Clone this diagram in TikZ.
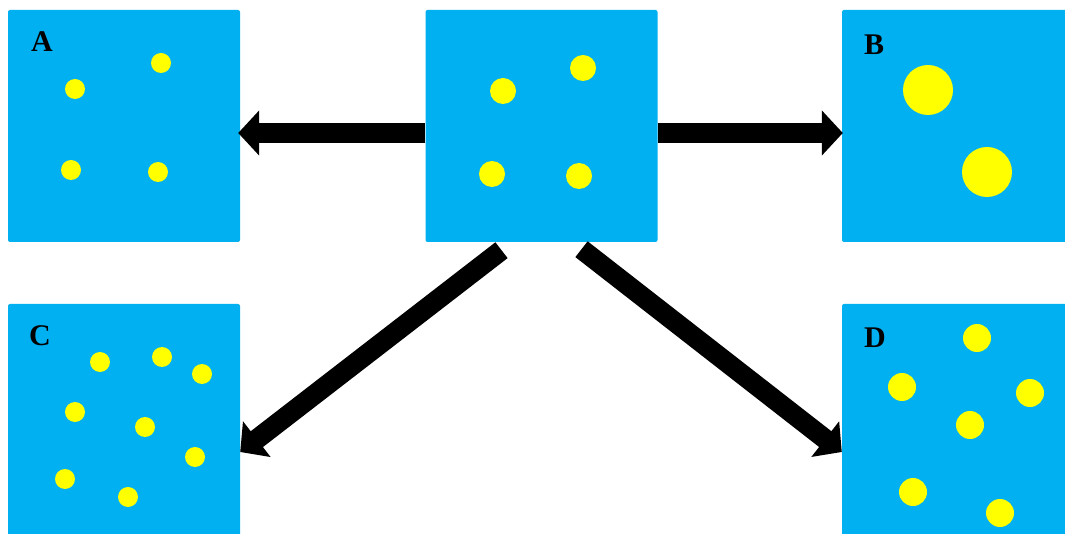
\documentclass[tikz,border=0pt]{standalone}
\usepackage{fontspec}
\setmainfont{Liberation Serif}
\usetikzlibrary{arrows.meta,calc}
\definecolor{boxblue}{HTML}{00B0F0}
\definecolor{dotyellow}{HTML}{FFFF00}
\begin{document}
\begin{tikzpicture}[x=1pt,y=-1pt,
  panel/.style={fill=boxblue,draw=none,rounded corners=2pt,minimum width=232pt,minimum height=232pt,inner sep=0pt},
  dot/.style={circle,fill=dotyellow,draw=none,inner sep=0pt,minimum size=#1},
  dot/.default=20pt,
  lab/.style={font=\bfseries\fontsize{30}{30}\selectfont,inner sep=0pt},
  bigarrow/.style={line width=20pt,-{Triangle[width=44pt,length=21pt]}}]
\clip (0,0) rectangle (1065,534);
\fill[white] (0,0) rectangle (1065,534);
% panels
\node[panel] (A) at (124,126) {};
\node[panel] (ctr) at (541.5,126) {};
\node[panel] (B) at (958,126) {};
\node[panel] (C) at (124,420) {};
\node[panel] (D) at (958,420) {};
% labels
\node[lab] (la) at (42,42) {A};
\node[lab] (lb) at (874,45) {B};
\node[lab] (lc) at (40,336) {C};
\node[lab] (ld) at (875,338) {D};
% dots in A
\node[dot] (a1) at (75,89) {};
\node[dot] (a2) at (161,63) {};
\node[dot] (a3) at (71,170) {};
\node[dot] (a4) at (158,172) {};
% dots in centre
\node[dot=26pt] (m1) at (503,91) {};
\node[dot=26pt] (m2) at (583,68) {};
\node[dot=26pt] (m3) at (492,174) {};
\node[dot=26pt] (m4) at (579,176) {};
% dots in B
\node[dot=50pt] (b1) at (928,90) {};
\node[dot=50pt] (b2) at (987,172) {};
% dots in C
\node[dot] (c1) at (100,362) {};
\node[dot] (c2) at (162,357) {};
\node[dot] (c3) at (202,374) {};
\node[dot] (c4) at (75,412) {};
\node[dot] (c5) at (145,427) {};
\node[dot] (c6) at (195,457) {};
\node[dot] (c7) at (65,479) {};
\node[dot] (c8) at (128,497) {};
% dots in D
\node[dot=28pt] (d1) at (977,338) {};
\node[dot=28pt] (d2) at (902,387) {};
\node[dot=28pt] (d3) at (1030,393) {};
\node[dot=28pt] (d4) at (970,425) {};
\node[dot=28pt] (d5) at (913,492) {};
\node[dot=28pt] (d6) at (1000,513) {};
% arrows
\draw[bigarrow] ($(ctr.west)+(0,7)$) -- ($(A.east)+(-2,7)$);
\draw[bigarrow] ($(ctr.east)+(0,7)$) -- ($(B.west)+(1,7)$);
\draw[bigarrow] ($(ctr.south)+(-40,8)$) -- ($(C.east)+(0,32)$);
\draw[bigarrow] ($(ctr.south)+(40,7)$) -- ($(D.west)+(0,32)$);
\end{tikzpicture}
\end{document}
